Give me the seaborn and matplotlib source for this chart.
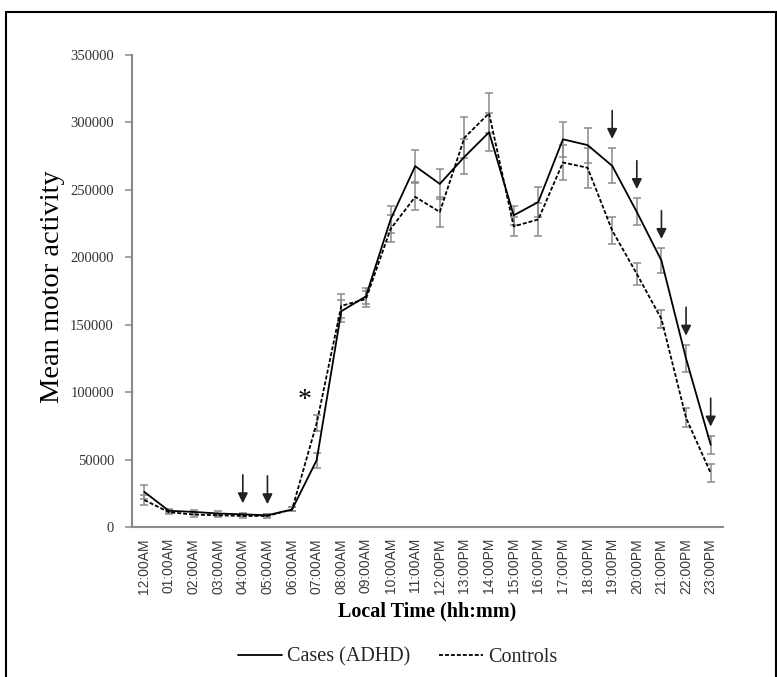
import numpy as np
import pandas as pd
import matplotlib
matplotlib.use("Agg")
import matplotlib.pyplot as plt
from matplotlib.lines import Line2D
import seaborn as sns

# Hour-of-day categories
hours = ["12:00AM", "01:00AM", "02:00AM", "03:00AM", "04:00AM", "05:00AM",
         "06:00AM", "07:00AM", "08:00AM", "09:00AM", "10:00AM", "11:00AM",
         "12:00PM", "13:00PM", "14:00PM", "15:00PM", "16:00PM", "17:00PM",
         "18:00PM", "19:00PM", "20:00PM", "21:00PM", "22:00PM", "23:00PM"]

# Mean motor activity per hour and its standard error
adhd_mean = [26000, 12000, 11200, 10000, 9400, 8700, 13000, 49600,
             160000, 171000, 228000, 267600, 254400, 274500, 292700, 231100,
             241000, 287500, 283200, 267800, 233600, 197600, 124900, 61000]
adhd_err = [5000, 1500, 1500, 1500, 1200, 1200, 1500, 5500,
            8000, 6000, 10000, 12000, 11000, 13000, 14000, 7000,
            11000, 13000, 13000, 13000, 10000, 9000, 10000, 6500]

ctrl_mean = [20000, 11000, 9200, 8700, 8200, 8200, 13000, 77000,
             164000, 169000, 221000, 244800, 233600, 288700, 306800, 222900,
             228100, 270300, 266400, 219900, 187700, 154200, 80900, 40000]
ctrl_err = [4000, 1500, 1500, 1200, 1200, 1200, 1500, 6000,
            9000, 6000, 10000, 10000, 11000, 15000, 15000, 7000,
            12000, 13000, 15000, 10000, 8000, 6500, 7000, 6500]

groups = ["Cases (ADHD)", "Controls"]

# Hours with a significant group difference, and the early-morning asterisk
arrow_hours = ["04:00AM", "05:00AM", "19:00PM", "20:00PM", "21:00PM", "22:00PM", "23:00PM"]
star_hour = "07:00AM"
star_value = 94000

idx = np.arange(len(hours))
df = pd.concat([
    pd.DataFrame({"hour": idx, "activity": adhd_mean, "err": adhd_err, "group": groups[0]}),
    pd.DataFrame({"hour": idx, "activity": ctrl_mean, "err": ctrl_err, "group": groups[1]}),
], ignore_index=True)

sns.set_theme(style="white")
serif = ["Liberation Serif", "DejaVu Serif"]
sans = ["Liberation Sans", "DejaVu Sans"]

fig = plt.figure(figsize=(7.77, 6.77), dpi=100)
ax = fig.add_axes([132 / 777, 1 - 527 / 677, (723 - 132) / 777, (527 - 55) / 677])

# Standard-error bars beneath the lines
for g in groups:
    sub = df[df["group"] == g]
    ax.errorbar(sub["hour"], sub["activity"], yerr=sub["err"], fmt="none",
                ecolor="#8a8a8a", elinewidth=1.1, capsize=3, capthick=1.1, zorder=2)

sns.lineplot(data=df, x="hour", y="activity", hue="group", style="group",
             palette={groups[0]: "black", groups[1]: "black"},
             dashes={groups[0]: "", groups[1]: (2.2, 1.1)},
             linewidth=1.3, legend=False, ax=ax, zorder=3)

ax.set_xlim(-0.5, len(hours) - 0.5)
ax.set_ylim(0, 350000)
ax.set_yticks(np.arange(0, 350001, 50000))
ax.set_yticklabels([f"{v:d}" for v in range(0, 350001, 50000)],
                   family=serif, fontsize=10.5, color="#333333")
ax.set_xticks(idx)
ax.set_xticklabels(hours, rotation=90, family=sans, fontsize=10, color="#3a3a3a")
ax.tick_params(axis="x", length=0, pad=8)
ax.tick_params(axis="y", length=5, width=1.1, color="#8a8a8a", pad=8, left=True)

for side in ["top", "right"]:
    ax.spines[side].set_visible(False)
for side in ["left", "bottom"]:
    ax.spines[side].set_color("#8a8a8a")
    ax.spines[side].set_linewidth(1.5)

ax.set_ylabel("Mean motor activity", family=serif, fontsize=20.5, color="black")
ax.yaxis.set_label_coords(-0.113, 0.51)
ax.set_xlabel("Local Time (hh:mm)", family=serif, fontsize=14.5,
              fontweight="bold", color="black")
ax.xaxis.set_label_coords(0.5, -0.158)

# Significance arrows above the ADHD curve
for h in arrow_hours:
    i = hours.index(h)
    tip = adhd_mean[i] + adhd_err[i] + 7000
    ax.annotate("", xy=(i, tip), xytext=(i, tip + 21000),
                arrowprops=dict(arrowstyle="-|>", color="#222222", lw=1.2,
                                mutation_scale=15, shrinkA=0, shrinkB=0),
                zorder=4)

ax.text(hours.index(star_hour) - 0.5, star_value, "*", family=serif,
        fontsize=20, ha="center", va="center", color="black")

# Legend below the axis title
handles = [Line2D([], [], color="black", lw=1.3, linestyle="-"),
           Line2D([], [], color="black", lw=1.3, linestyle=(0, (2.2, 1.1)))]
fig.legend(handles, groups, loc="center", bbox_to_anchor=(0.512, 1 - 657 / 677),
           ncol=2, frameon=False, handlelength=2.2, handletextpad=0.25,
           columnspacing=1.4, prop={"family": serif, "size": 14.5})

# Outer frame of the figure
for xs, ys in [([6 / 777, 6 / 777], [0, 1 - 12 / 677]),
               ([6 / 777, 1], [1 - 12 / 677, 1 - 12 / 677]),
               ([776 / 777, 776 / 777], [0, 1 - 12 / 677])]:
    fig.add_artist(Line2D(xs, ys, color="black", lw=1.5, transform=fig.transFigure))

fig.savefig("out.png", dpi=100, facecolor="white")
